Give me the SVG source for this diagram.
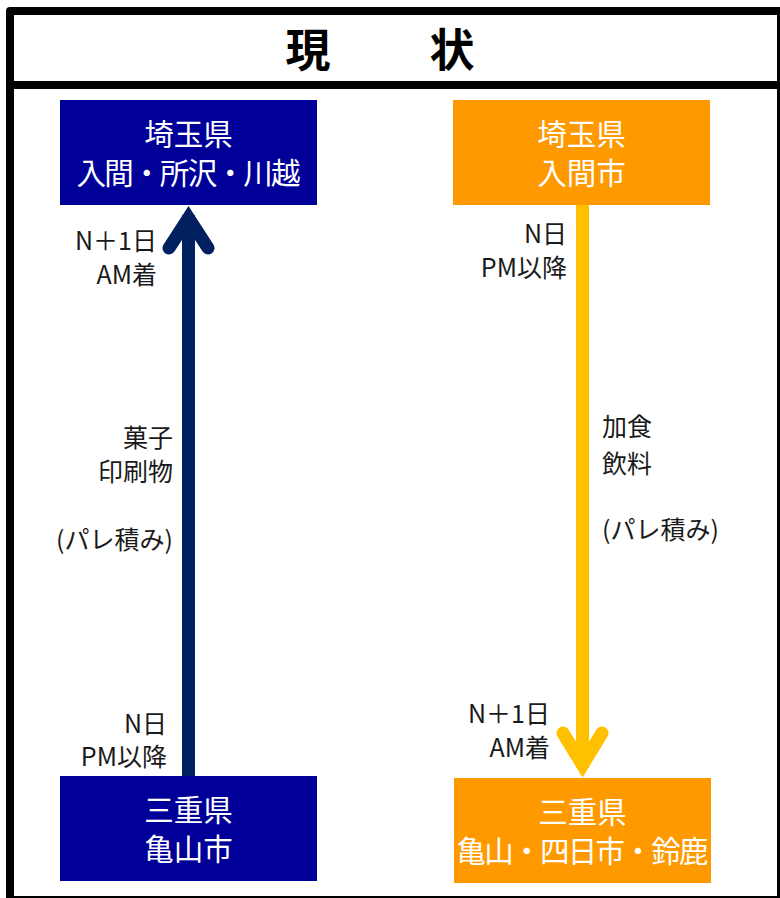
<svg xmlns="http://www.w3.org/2000/svg" width="780" height="898" viewBox="0 0 780 898">
<style>
.frame{fill:none;stroke:#000;stroke-width:8;stroke-linejoin:round}
.title{font-family:"Noto Sans CJK JP","Noto Sans",sans-serif;font-weight:bold;font-size:45px;fill:#000;text-anchor:middle}
.box-text{font-family:"Noto Sans CJK JP","Noto Sans",sans-serif;font-size:29.5px;fill:#fff;text-anchor:middle}
.lbl{font-family:"Noto Sans CJK JP","Noto Sans",sans-serif;font-size:25px;fill:#1a1a1a}
.end{text-anchor:end}
.blue{fill:#000099}
.orange{fill:#FF9900}
.arr-blue{fill:none;stroke:#002060;stroke-width:13}
.arr-orange{fill:none;stroke:#FFC000;stroke-width:13}
.head{stroke-linecap:round;stroke-linejoin:miter;stroke-miterlimit:10}
</style>
<rect x="0" y="0" width="780" height="898" fill="#fff"/>
<g id="frame">
<rect class="frame" x="10" y="11" width="771" height="889"/>
<line x1="10" y1="85" x2="781" y2="85" stroke="#000" stroke-width="8"/>
</g>
<g id="title">
<text class="title" x="308" y="67">現</text>
<text class="title" x="452" y="67">状</text>
</g>
<g id="connectors">
<g id="arrow-left">
<line class="arr-blue" x1="188.5" y1="776" x2="188.5" y2="215"/>
<path class="arr-blue head" d="M169,248 L188.5,218 L208,248"/>
</g>
<g id="arrow-right">
<line class="arr-orange" x1="582.5" y1="205" x2="582.5" y2="768"/>
<path class="arr-orange head" d="M563,733 L582.5,765 L602,733"/>
</g>
</g>
<g id="node-saitama-left">
<rect class="blue" x="60" y="100" width="257" height="105"/>
<text class="box-text"><tspan x="188.5" y="144.5">埼玉県</tspan><tspan x="188.5" y="183.5" textLength="224" lengthAdjust="spacing">入間・所沢・川越</tspan></text>
</g>
<g id="node-saitama-right">
<rect class="orange" x="453" y="100" width="257" height="105"/>
<text class="box-text"><tspan x="581.5" y="144.5">埼玉県</tspan><tspan x="581.5" y="183.5">入間市</tspan></text>
</g>
<g id="node-mie-left">
<rect class="blue" x="60" y="776" width="257" height="105"/>
<text class="box-text"><tspan x="188.5" y="820.5">三重県</tspan><tspan x="188.5" y="859.5">亀山市</tspan></text>
</g>
<g id="node-mie-right">
<rect class="orange" x="454" y="778" width="257" height="105"/>
<text class="box-text"><tspan x="582.5" y="822.5">三重県</tspan><tspan x="582.5" y="861.5" textLength="252" lengthAdjust="spacing">亀山・四日市・鈴鹿</tspan></text>
</g>
<g id="labels-left">
<text class="lbl end"><tspan x="157" y="250">N＋1日</tspan><tspan x="157" y="283.5">AM着</tspan></text>
<text class="lbl end"><tspan x="173" y="447">菓子</tspan><tspan x="173" y="481">印刷物</tspan><tspan x="173" y="549">(パレ積み)</tspan></text>
<text class="lbl end"><tspan x="167" y="732.5">N日</tspan><tspan x="167" y="766">PM以降</tspan></text>
</g>
<g id="labels-right">
<text class="lbl end"><tspan x="567" y="243">N日</tspan><tspan x="567" y="277">PM以降</tspan></text>
<text class="lbl"><tspan x="602" y="436">加食</tspan><tspan x="602" y="473">飲料</tspan><tspan x="602" y="539">(パレ積み)</tspan></text>
<text class="lbl end"><tspan x="550" y="723">N＋1日</tspan><tspan x="550" y="757">AM着</tspan></text>
</g>
</svg>
